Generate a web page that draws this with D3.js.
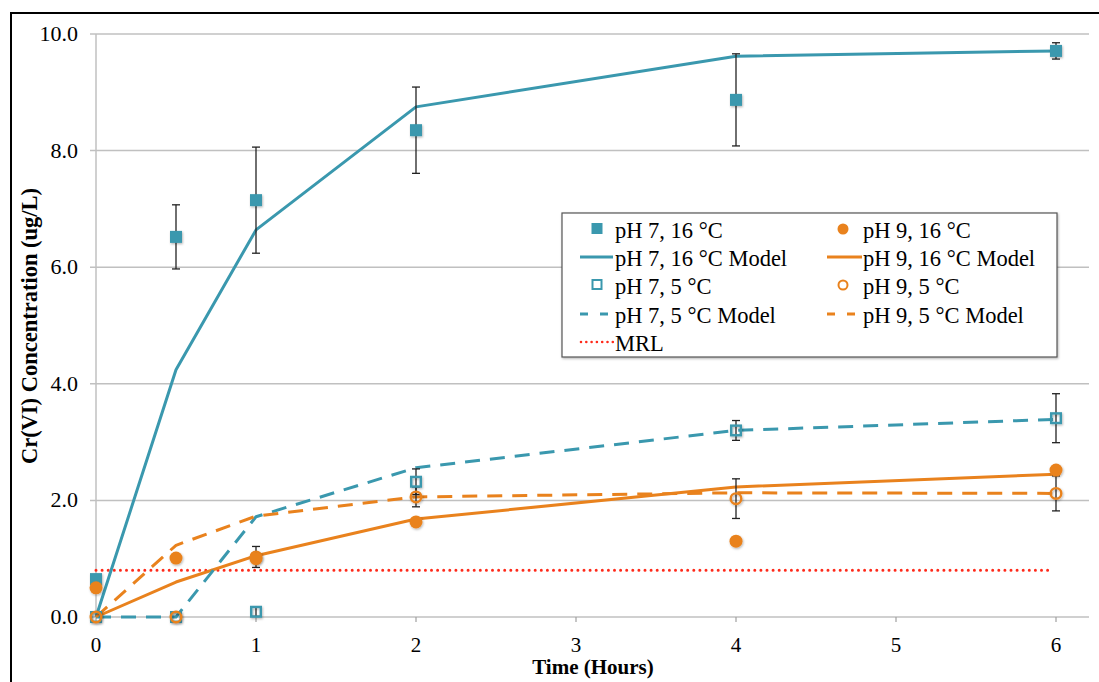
<!DOCTYPE html>
<html>
<head>
<meta charset="utf-8">
<script src="https://cdn.jsdelivr.net/npm/d3@7"></script>
<style>
  html, body { margin: 0; padding: 0; background: #fff; }
  svg { display: block; }
</style>
</head>
<body>
<svg id="chart" width="1099" height="682" font-family="'Liberation Serif', 'DejaVu Serif', 'Times New Roman', Times, serif"></svg>
<script>
// Sampling times (hours)
const times = [0, 0.5, 1, 2, 4, 6];

// Measured Cr(VI) concentrations (ug/L) and standard deviations
const ph7_16 = [0.65, 6.52, 7.15, 8.35, 8.87, 9.71];
const ph7_16_err = [0, 0.55, 0.91, 0.74, 0.79, 0.14];
const ph9_16 = [0.50, 1.01, 1.00, 1.63, 1.30, 2.52];
const ph9_16_err = [0, 0, 0, 0, 0, 0];
const ph7_5 = [0.00, 0.00, 0.09, 2.32, 3.20, 3.41];
const ph7_5_err = [0, 0, 0.08, 0.22, 0.17, 0.42];
const ph9_5 = [0.00, 0.00, 1.03, 2.06, 2.03, 2.12];
const ph9_5_err = [0, 0, 0.18, 0.17, 0.34, 0.30];

// Model curves
const ph7_16_model = [0, 4.24, 6.64, 8.75, 9.62, 9.71];
const ph9_16_model = [0, 0.60, 1.05, 1.68, 2.23, 2.45];
const ph7_5_model = [0, 0, 1.72, 2.56, 3.20, 3.39];
const ph9_5_model = [0, 1.23, 1.73, 2.06, 2.13, 2.12];

// Minimum reporting level
const mrlValue = 0.8;
const mrlTimes = [0, 5.96];

const yTicks = [0, 2, 4, 6, 8, 10];
const xTicks = [0, 1, 2, 3, 4, 5, 6];

const TEAL = "#3a98ae";
const ORANGE = "#e9821d";
const RED = "#ff2a1a";

const svg = d3.select("#chart");

const defs = svg.append("defs");
const shadow = defs.append("filter").attr("id", "shadow")
  .attr("x", "-50%").attr("y", "-50%").attr("width", "200%").attr("height", "200%");
shadow.append("feDropShadow").attr("dx", 0.8).attr("dy", 1.2)
  .attr("stdDeviation", 1).attr("flood-color", "#000").attr("flood-opacity", 0.3);

// outer frame
svg.append("rect").attr("x", 11).attr("y", 13).attr("width", 1200).attr("height", 800)
  .attr("fill", "none").attr("stroke", "#000").attr("stroke-width", 2);

const x = d3.scaleLinear().domain([0, 6]).range([96, 1056]);
const y = d3.scaleLinear().domain([0, 10]).range([617, 34]);
const plotRight = 1089;

// horizontal gridlines
svg.append("g").selectAll("line").data(yTicks).join("line")
  .attr("x1", 90).attr("x2", plotRight)
  .attr("y1", d => y(d)).attr("y2", d => y(d))
  .attr("stroke", "#c0c0c0").attr("stroke-width", 1.5);

// vertical axis line
svg.append("line").attr("x1", x(0)).attr("x2", x(0)).attr("y1", y(10)).attr("y2", y(0))
  .attr("stroke", "#c0c0c0").attr("stroke-width", 1.5);

// x-axis ticks
svg.append("g").selectAll("line").data(xTicks).join("line")
  .attr("x1", d => x(d)).attr("x2", d => x(d))
  .attr("y1", y(0)).attr("y2", y(0) + 5)
  .attr("stroke", "#a0a0a0").attr("stroke-width", 1.2);

// tick labels
svg.append("g").selectAll("text").data(yTicks).join("text")
  .attr("x", 78).attr("y", d => y(d) + 7)
  .attr("text-anchor", "end").attr("font-size", 22).attr("fill", "#000")
  .text(d => d.toFixed(1));

svg.append("g").selectAll("text").data(xTicks).join("text")
  .attr("x", d => x(d)).attr("y", 652)
  .attr("text-anchor", "middle").attr("font-size", 21).attr("fill", "#000")
  .text(d => d);

// axis titles
svg.append("text").attr("x", 593).attr("y", 674)
  .attr("text-anchor", "middle").attr("font-size", 21).attr("font-weight", "bold")
  .text("Time (Hours)");

svg.append("text")
  .attr("transform", "translate(37,326) rotate(-90)")
  .attr("text-anchor", "middle").attr("font-size", 22.5).attr("font-weight", "bold")
  .text("Cr(VI) Concentration (ug/L)");

// MRL line
svg.append("line")
  .attr("x1", x(mrlTimes[0])).attr("x2", x(mrlTimes[1]))
  .attr("y1", y(mrlValue)).attr("y2", y(mrlValue))
  .attr("stroke", RED).attr("stroke-width", 3)
  .attr("stroke-dasharray", "0 6.1").attr("stroke-linecap", "round");

// model curves
const line = d3.line().x((d, i) => x(times[i])).y(d => y(d));
function drawModel(vals, color, dash) {
  svg.append("path").datum(vals).attr("d", line)
    .attr("fill", "none").attr("stroke", color).attr("stroke-width", 3)
    .attr("stroke-linejoin", "round")
    .attr("stroke-dasharray", dash || null);
}
drawModel(ph7_16_model, TEAL);
drawModel(ph9_16_model, ORANGE);
drawModel(ph7_5_model, TEAL, "15 10");
drawModel(ph9_5_model, ORANGE, "15 10");

// error bars
function drawErr(vals, errs) {
  const g = svg.append("g").attr("stroke", "#222").attr("stroke-width", 1.3);
  times.forEach((t, i) => {
    if (!errs[i]) return;
    const cx = x(t), y1 = y(vals[i] + errs[i]), y2 = y(vals[i] - errs[i]);
    g.append("line").attr("x1", cx).attr("x2", cx).attr("y1", y1).attr("y2", y2);
    g.append("line").attr("x1", cx - 4).attr("x2", cx + 4).attr("y1", y1).attr("y2", y1);
    g.append("line").attr("x1", cx - 4).attr("x2", cx + 4).attr("y1", y2).attr("y2", y2);
  });
}
drawErr(ph7_16, ph7_16_err);
drawErr(ph9_16, ph9_16_err);
drawErr(ph7_5, ph7_5_err);
drawErr(ph9_5, ph9_5_err);

// markers
function square(g, cx, cy, filled, size) {
  const s = size || 12;
  const inset = filled ? 0 : 1.2;
  g.append("rect").attr("x", cx - s / 2 + inset).attr("y", cy - s / 2 + inset)
    .attr("width", s - 2 * inset).attr("height", s - 2 * inset)
    .attr("fill", filled ? TEAL : "none")
    .attr("stroke", filled ? "none" : TEAL).attr("stroke-width", filled ? 0 : 2.4)
    .attr("filter", "url(#shadow)");
}
function circle(g, cx, cy, filled, r) {
  const rr = r || 6.5;
  g.append("circle").attr("cx", cx).attr("cy", cy).attr("r", filled ? rr : rr - 1.2)
    .attr("fill", filled ? ORANGE : "none")
    .attr("stroke", filled ? "none" : ORANGE).attr("stroke-width", filled ? 0 : 2.4)
    .attr("filter", "url(#shadow)");
}
const mk = svg.append("g");
ph7_5.forEach((v, i) => square(mk, x(times[i]), y(v), false));
ph9_5.forEach((v, i) => circle(mk, x(times[i]), y(v), false));
ph7_16.forEach((v, i) => square(mk, x(times[i]), y(v), true));
ph9_16.forEach((v, i) => circle(mk, x(times[i]), y(v), true));

// legend
const lg = svg.append("g");
lg.append("rect").attr("x", 562).attr("y", 213).attr("width", 495).attr("height", 144)
  .attr("fill", "#fff").attr("stroke", "#555").attr("stroke-width", 1.2)
  .attr("filter", "url(#shadow)");

const rows = [232, 260, 288, 317, 345];
const col = [{ mark: 597, l1: 580, l2: 613, text: 615 }, { mark: 843, l1: 827, l2: 862, text: 863 }];
const legendItems = [
  { c: 0, r: 0, label: "pH 7, 16 °C", kind: "sqFilled" },
  { c: 1, r: 0, label: "pH 9, 16 °C", kind: "ciFilled" },
  { c: 0, r: 1, label: "pH 7, 16 °C Model", kind: "line", color: TEAL },
  { c: 1, r: 1, label: "pH 9, 16 °C Model", kind: "line", color: ORANGE },
  { c: 0, r: 2, label: "pH 7, 5 °C", kind: "sqOpen" },
  { c: 1, r: 2, label: "pH 9, 5 °C", kind: "ciOpen" },
  { c: 0, r: 3, label: "pH 7, 5 °C Model", kind: "dash", color: TEAL },
  { c: 1, r: 3, label: "pH 9, 5 °C Model", kind: "dash", color: ORANGE },
  { c: 0, r: 4, label: "MRL", kind: "dot", color: RED }
];
legendItems.forEach(it => {
  const cc = col[it.c], cy = rows[it.r];
  if (it.kind === "sqFilled") {
    lg.append("rect").attr("x", cc.mark - 5.5).attr("y", cy - 9).attr("width", 11).attr("height", 11).attr("fill", TEAL);
  } else if (it.kind === "sqOpen") {
    lg.append("rect").attr("x", cc.mark - 4.5).attr("y", cy - 8).attr("width", 9).attr("height", 9)
      .attr("fill", "none").attr("stroke", TEAL).attr("stroke-width", 2);
  } else if (it.kind === "ciFilled") {
    lg.append("circle").attr("cx", cc.mark).attr("cy", cy - 3).attr("r", 5.5).attr("fill", ORANGE);
  } else if (it.kind === "ciOpen") {
    lg.append("circle").attr("cx", cc.mark).attr("cy", cy - 3).attr("r", 4.5)
      .attr("fill", "none").attr("stroke", ORANGE).attr("stroke-width", 2);
  } else if (it.kind === "line") {
    lg.append("line").attr("x1", cc.l1).attr("x2", cc.l2).attr("y1", cy - 3).attr("y2", cy - 3)
      .attr("stroke", it.color).attr("stroke-width", 3);
  } else if (it.kind === "dash") {
    lg.append("line").attr("x1", cc.l1).attr("x2", cc.l2).attr("y1", cy - 3).attr("y2", cy - 3)
      .attr("stroke", it.color).attr("stroke-width", 3).attr("stroke-dasharray", "8 12");
  } else if (it.kind === "dot") {
    lg.append("line").attr("x1", cc.l1 + 1).attr("x2", cc.l2).attr("y1", cy - 3).attr("y2", cy - 3)
      .attr("stroke", it.color).attr("stroke-width", 2.6).attr("stroke-dasharray", "0 5.3")
      .attr("stroke-linecap", "round");
  }
  lg.append("text").attr("x", cc.text).attr("y", cy + 6)
    .attr("font-size", 22.5).attr("fill", "#000").text(it.label);
});
</script>
</body>
</html>
